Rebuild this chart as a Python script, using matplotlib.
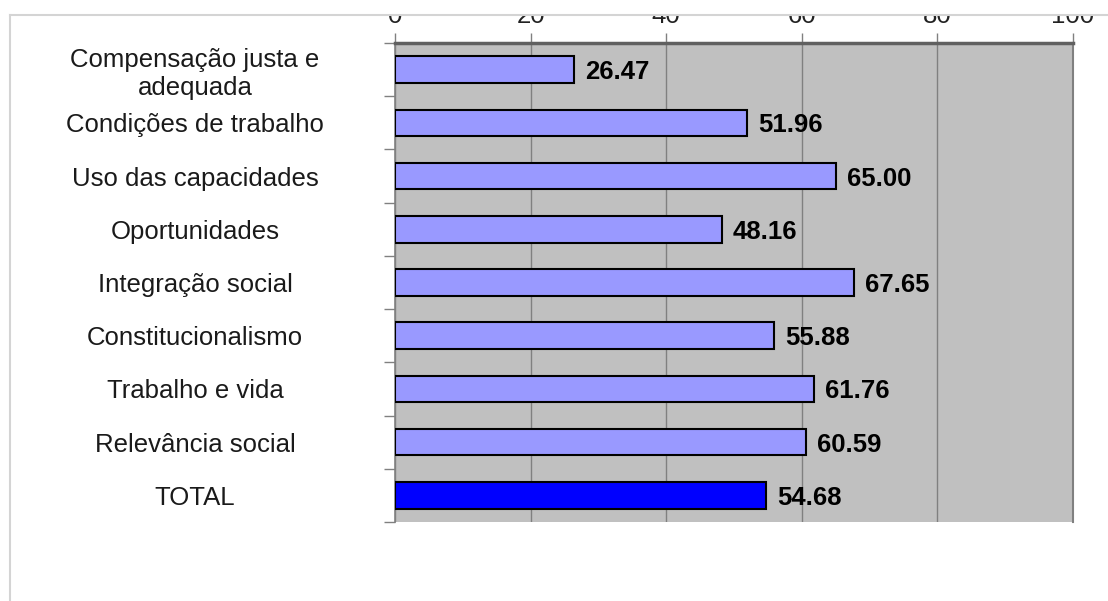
import matplotlib
matplotlib.use("Agg")
import matplotlib.pyplot as plt
from matplotlib.patches import Rectangle
from matplotlib.lines import Line2D
import numpy as np

categories = ["Compensação justa e\nadequada", "Condições de trabalho", "Uso das capacidades",
              "Oportunidades", "Integração social", "Constitucionalismo",
              "Trabalho e vida", "Relevância social", "TOTAL"]
values = [26.47, 51.96, 65.00, 48.16, 67.65, 55.88, 61.76, 60.59, 54.68]
value_labels = ["26.47", "51.96", "65.00", "48.16", "67.65", "55.88", "61.76", "60.59", "54.68"]
x_ticks = [0, 20, 40, 60, 80, 100]

W, H = 1108, 601
fig = plt.figure(figsize=(W / 100, H / 100), dpi=100)
fig.patch.set_facecolor("white")
plt.rcParams['font.family'] = ['Liberation Sans', 'DejaVu Sans']

ax = fig.add_axes([395 / W, 1 - 522 / H, (1073 - 395) / W, (522 - 43) / H])
ax.set_facecolor("#c0c0c0")

y = np.arange(len(categories))
colors = ["#9999ff"] * (len(categories) - 1) + ["#0000ff"]
ax.barh(y, values, height=0.5, color=colors, edgecolor="black", linewidth=1.5, zorder=3)

for yi, v, lab in zip(y, values, value_labels):
    ax.annotate(lab, (v, yi), xytext=(8, 0), textcoords="offset points",
                ha="left", va="center_baseline", fontsize=18.5, fontweight="bold",
                color="black", zorder=4)

ax.set_xlim(0, 100)
ax.set_ylim(len(categories) - 0.5, -0.5)

ax.xaxis.tick_top()
ax.set_xticks(x_ticks)
ax.set_xticklabels([str(t) for t in x_ticks], fontsize=18.5, color="#222222")
ax.tick_params(axis="x", which="major", length=7.5, width=1, color="#808080", pad=3)
ax.grid(axis="x", color="#808080", linewidth=1, zorder=1)
ax.set_axisbelow(True)

ax.set_yticks(np.arange(len(categories) + 1) - 0.5)
ax.set_yticklabels([])
ax.set_yticks(y, minor=True)
ax.set_yticklabels(categories, minor=True, fontsize=18.5, color="#1a1a1a", ha="center",
                   multialignment="center")
ax.tick_params(axis="y", which="major", length=8, width=1, color="#808080")
ax.tick_params(axis="y", which="minor", length=0, pad=144)

ax.spines["top"].set_color("#606060")
ax.spines["top"].set_linewidth(2.5)
ax.spines["right"].set_color("#808080")
ax.spines["right"].set_linewidth(1.5)
ax.spines["left"].set_color("#808080")
ax.spines["left"].set_linewidth(1.2)
ax.spines["bottom"].set_visible(False)

# clipping band at the top of the picture and thin frame lines
fig.add_artist(Rectangle((0, 1 - 15 / H), 1, 15 / H, transform=fig.transFigure,
                         facecolor="white", edgecolor="none", zorder=10))
fig.add_artist(Line2D([10 / W, 1], [1 - 15 / H, 1 - 15 / H], transform=fig.transFigure,
                      color="#d4d4d4", linewidth=1.5, zorder=11))
fig.add_artist(Line2D([10 / W, 10 / W], [1 - 15 / H, 0], transform=fig.transFigure,
                      color="#d4d4d4", linewidth=1.5, zorder=11))

fig.savefig("out.png", dpi=100)
